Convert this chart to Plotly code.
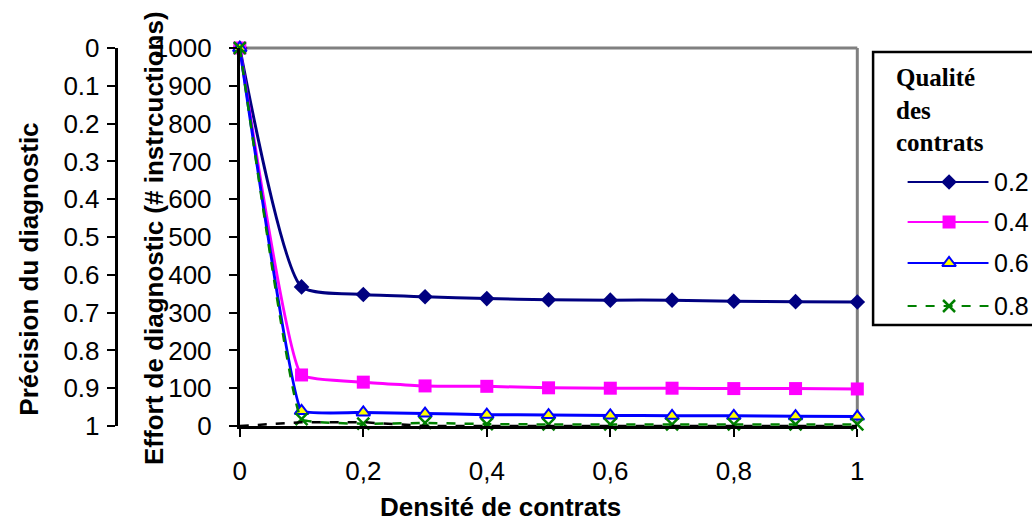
import plotly.graph_objects as go

# ---- data -------------------------------------------------------------
densite = [0, 0.1, 0.2, 0.3, 0.4, 0.5, 0.6, 0.7, 0.8, 0.9, 1.0]
effort_q02 = [1000, 368, 348, 342, 337, 334, 333, 333, 330, 329, 328]
effort_q04 = [1000, 135, 116, 106, 105, 101, 100, 100, 99, 99, 98]
effort_q06 = [1000, 40, 36, 33, 30, 29, 28, 27, 27, 26, 25]
effort_q08 = [1000, 18, 6, 8, 5, 4, 4, 4, 4, 4, 4]
precision = [1.0, 0.99, 0.99, 1.0, 1.0, 1.0, 1.0, 1.0, 1.0, 1.0, 1.0]

qualites = ["0.2", "0.4", "0.6", "0.8"]
x_ticks = [0, 0.2, 0.4, 0.6, 0.8, 1.0]
x_ticktext = ["0", "0,2", "0,4", "0,6", "0,8", "1"]
effort_ticks = [0, 100, 200, 300, 400, 500, 600, 700, 800, 900, 1000]
precision_ticks = [0, 0.1, 0.2, 0.3, 0.4, 0.5, 0.6, 0.7, 0.8, 0.9, 1.0]
precision_ticktext = ["0", "0.1", "0.2", "0.3", "0.4", "0.5", "0.6", "0.7", "0.8", "0.9", "1"]

# ---- page geometry (pixels) ------------------------------------------
W, H = 1032, 525
PLOT_L, PLOT_R, PLOT_T, PLOT_B = 236, 862, 48, 426
PREC_AXIS_X = 110


def px(x):
    return x / W


def py(y):
    return (PLOT_B - y) / (PLOT_B - PLOT_T)


SANS = "Liberation Sans, Arial, sans-serif"
SERIF = "Liberation Serif, Times New Roman, serif"

styles = [
    dict(color="#000080", width=3, dash="solid", smoothing=0.55,
         marker=dict(symbol="diamond", size=12, color="#000080")),
    dict(color="#FF00FF", width=3, dash="solid", smoothing=0.35,
         marker=dict(symbol="square", size=13, color="#FF00FF")),
    dict(color="#0000FF", width=3, dash="solid", smoothing=0.25,
         marker=dict(symbol="triangle-up", size=12, color="#FFFF00",
                     line=dict(color="#0000FF", width=2))),
    dict(color="#008000", width=2.5, dash="dash", smoothing=0.25,
         marker=dict(symbol="x-thin", size=12, color="#008000",
                     line=dict(color="#008000", width=2.5))),
]
series = [effort_q02, effort_q04, effort_q06, effort_q08]

fig = go.Figure()

# precision curve on the secondary (reversed) axis
fig.add_trace(go.Scatter(
    x=densite, y=precision, yaxis="y2", mode="lines",
    line=dict(color="black", width=2.5, dash="dash"),
    showlegend=False, hoverinfo="skip", cliponaxis=False,
))

for name, vals, st in zip(qualites, series, styles):
    fig.add_trace(go.Scatter(
        x=densite, y=vals, mode="lines+markers", name=name,
        line=dict(color=st["color"], width=st["width"], dash=st["dash"],
                  shape="spline", smoothing=st["smoothing"]),
        marker=st["marker"], showlegend=False, cliponaxis=False,
    ))

# ---- hand-drawn legend on a pixel-unit overlay axis -------------------
LEG_L, LEG_T, LEG_B = 878, 52, 325
LEG_LINE_X0, LEG_LINE_X1, LEG_MARK_X = 913, 995, 955
LEG_TEXT_X = 999
LEG_ROWS = [182, 222, 263, 306]

for name, st, row in zip(qualites, styles, LEG_ROWS):
    fig.add_trace(go.Scatter(
        x=[LEG_LINE_X0, LEG_LINE_X1], y=[row, row], xaxis="x3", yaxis="y3",
        mode="lines", line=dict(color=st["color"], width=2, dash=st["dash"]),
        showlegend=False, hoverinfo="skip",
    ))
    fig.add_trace(go.Scatter(
        x=[LEG_MARK_X], y=[row], xaxis="x3", yaxis="y3",
        mode="markers", marker=st["marker"],
        showlegend=False, hoverinfo="skip",
    ))

annotations = []
for name, row in zip(qualites, LEG_ROWS):
    annotations.append(dict(
        x=px(LEG_TEXT_X), y=py(row), xref="paper", yref="paper",
        text=name, showarrow=False, xanchor="left", yanchor="middle",
        font=dict(family=SANS, size=25, color="black"),
    ))
for word, yy in zip(["Qualité", "des", "contrats"], [77, 110, 142]):
    annotations.append(dict(
        x=px(899), y=py(yy), xref="paper", yref="paper",
        text="<b>" + word + "</b>", showarrow=False,
        xanchor="left", yanchor="middle",
        font=dict(family=SERIF, size=25, color="black"),
    ))

# axis titles
annotations += [
    dict(x=px(22), y=py(269), xref="paper", yref="paper",
         text="<b>Précision du diagnostic</b>", textangle=-90,
         showarrow=False, xanchor="center", yanchor="middle",
         font=dict(family=SANS, size=26, color="black")),
    dict(x=px(149), y=py(238), xref="paper", yref="paper",
         text="<b>Effort de diagnostic (# instrcuctions)</b>", textangle=-90,
         showarrow=False, xanchor="center", yanchor="middle",
         font=dict(family=SANS, size=26, color="black")),
    dict(x=px(500), y=py(507), xref="paper", yref="paper",
         text="<b>Densité de contrats</b>",
         showarrow=False, xanchor="center", yanchor="middle",
         font=dict(family=SANS, size=26, color="black")),
]

shapes = [
    # gray frame on the top and right of the plotting area
    dict(type="line", xref="paper", yref="paper",
         x0=px(PLOT_L), x1=px(PLOT_R), y0=1, y1=1,
         line=dict(color="#808080", width=3), layer="below"),
    dict(type="line", xref="paper", yref="paper",
         x0=px(PLOT_R), x1=px(PLOT_R), y0=0, y1=1,
         line=dict(color="#808080", width=3), layer="below"),
    # legend frame (runs past the right edge of the page)
    dict(type="rect", xref="paper", yref="paper",
         x0=px(LEG_L), x1=px(LEG_L + 200), y0=py(LEG_B), y1=py(LEG_T),
         line=dict(color="black", width=2.5), fillcolor="white", layer="below"),
]

tick_font = dict(family=SANS, size=26, color="black")

fig.update_layout(
    width=W, height=H,
    margin=dict(l=0, r=0, t=PLOT_T, b=H - PLOT_B, pad=0),
    paper_bgcolor="white", plot_bgcolor="white",
    showlegend=False,
    xaxis=dict(
        domain=[px(PLOT_L), px(PLOT_R)], range=[0, 1],
        tickvals=x_ticks, ticktext=x_ticktext, tickfont=tick_font,
        ticks="outside", ticklen=8, tickwidth=2, tickcolor="black",
        ticklabelstandoff=12,
        showline=True, linecolor="black", linewidth=3,
        showgrid=False, zeroline=False, fixedrange=True,
    ),
    yaxis=dict(
        range=[0, 1000], tickvals=effort_ticks, tickfont=tick_font,
        ticks="outside", ticklen=8, tickwidth=2, tickcolor="black",
        ticklabelstandoff=12,
        showline=True, linecolor="black", linewidth=3,
        showgrid=False, zeroline=False, fixedrange=True,
    ),
    yaxis2=dict(
        overlaying="y", anchor="free", side="left", position=px(PREC_AXIS_X),
        range=[1, 0], tickvals=precision_ticks, ticktext=precision_ticktext,
        tickfont=tick_font, ticks="outside", ticklen=8, tickwidth=2,
        tickcolor="black", ticklabelstandoff=2,
        showline=True, linecolor="black", linewidth=2.5,
        showgrid=False, zeroline=False, fixedrange=True,
    ),
    xaxis3=dict(
        domain=[px(LEG_L), 1], range=[LEG_L, W], anchor="y3",
        visible=False, fixedrange=True,
    ),
    yaxis3=dict(
        domain=[0, 1], range=[PLOT_B, PLOT_T], anchor="x3",
        visible=False, fixedrange=True,
    ),
    shapes=shapes,
    annotations=annotations,
)

fig.write_html("out.html")
